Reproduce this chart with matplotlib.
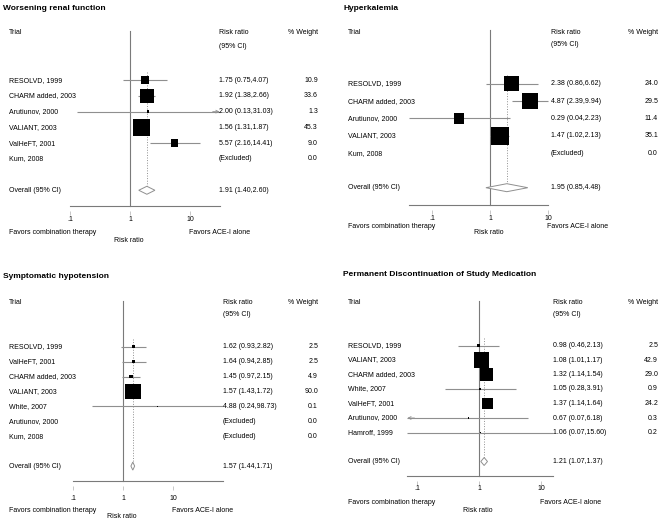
import numpy as np
import matplotlib
matplotlib.use("Agg")
import matplotlib.pyplot as plt
from matplotlib import transforms
from matplotlib.ticker import NullLocator

# ---- data ----
renal_names = ["RESOLVD, 1999", "CHARM added, 2003", "Arutiunov, 2000",
               "VALIANT, 2003", "ValHeFT, 2001", "Kum, 2008"]
renal_rr = [1.75, 1.92, 2.00, 1.56, 5.57, np.nan]
renal_lo = [0.75, 1.38, 0.13, 1.31, 2.16, np.nan]
renal_hi = [4.07, 2.66, 31.03, 1.87, 14.41, np.nan]
renal_wt = [10.9, 33.6, 1.3, 45.3, 9.0, 0.0]
renal_overall = (1.91, 1.40, 2.60)

hyperk_names = ["RESOLVD, 1999", "CHARM added, 2003", "Arutiunov, 2000",
                "VALIANT, 2003", "Kum, 2008"]
hyperk_rr = [2.38, 4.87, 0.29, 1.47, np.nan]
hyperk_lo = [0.86, 2.39, 0.04, 1.02, np.nan]
hyperk_hi = [6.62, 9.94, 2.23, 2.13, np.nan]
hyperk_wt = [24.0, 29.5, 11.4, 35.1, 0.0]
hyperk_overall = (1.95, 0.85, 4.48)

hypot_names = ["RESOLVD, 1999", "ValHeFT, 2001", "CHARM added, 2003",
               "VALIANT, 2003", "White, 2007", "Arutiunov, 2000", "Kum, 2008"]
hypot_rr = [1.62, 1.64, 1.45, 1.57, 4.88, np.nan, np.nan]
hypot_lo = [0.93, 0.94, 0.97, 1.43, 0.24, np.nan, np.nan]
hypot_hi = [2.82, 2.85, 2.15, 1.72, 98.73, np.nan, np.nan]
hypot_wt = [2.5, 2.5, 4.9, 90.0, 0.1, 0.0, 0.0]
hypot_overall = (1.57, 1.44, 1.71)

disc_names = ["RESOLVD, 1999", "VALIANT, 2003", "CHARM added, 2003",
              "White, 2007", "ValHeFT, 2001", "Arutiunov, 2000", "Hamroff, 1999"]
disc_rr = [0.98, 1.08, 1.32, 1.05, 1.37, 0.67, 1.06]
disc_lo = [0.46, 1.01, 1.14, 0.28, 1.14, 0.07, 0.07]
disc_hi = [2.13, 1.17, 1.54, 3.91, 1.64, 6.18, 15.60]
disc_wt = [2.5, 42.9, 29.0, 0.9, 24.2, 0.3, 0.2]
disc_overall = (1.21, 1.07, 1.37)

W, H = 661, 522
plt.rcParams["font.family"] = ["Liberation Sans", "DejaVu Sans"]
fig = plt.figure(figsize=(W / 100, H / 100), dpi=100)

LINE = "#7a7a7a"
CI = "#8f8f8f"
FS = 5


def forest(title, names, rr, lo, hi, wt, overall, g, arrows=None):
    n = len(names)
    rr, lo, hi, wt = map(np.asarray, (rr, lo, hi, wt))
    row = (g["axis"] - g["head"]) / (n + 5)
    top = g["head"] - 0.25 * row
    xlo = min(0.1, np.nanmin(lo))
    xhi = max(10, np.nanmax(hi))
    left = g["ref"] + g["dec"] * np.log10(xlo)
    right = g["ref"] + g["dec"] * np.log10(xhi)
    ax = fig.add_axes([left / W, 1 - g["axis"] / H,
                       (right - left) / W, (g["axis"] - top) / H])
    ax.set_xscale("log")
    ax.set_xlim(xlo, xhi)
    ax.set_ylim(n + 2, -3.25)
    for s in ["top", "left", "right"]:
        ax.spines[s].set_visible(False)
    ax.spines["bottom"].set_position(("outward", 3.6))
    ax.spines["bottom"].set_color("none")
    ax.set_yticks([])
    ax.set_xticks([0.1, 1, 10])
    ax.set_xticklabels([".1", "1", "10"])
    ax.xaxis.set_minor_locator(NullLocator())
    ax.tick_params(axis="x", length=3, width=0.5, color="#b0b0b0",
                   pad=max(0, (g["tl"] - 12.5) * 0.72), labelsize=FS)
    ax.patch.set_alpha(0)

    # axis line, null line, overall line
    ax.axhline(n + 2, color=LINE, lw=0.8, clip_on=False)
    ax.plot([1, 1], [-3.1, n + 2], color=LINE, lw=0.8, clip_on=False)
    ax.plot([overall[0]] * 2, [-0.5, n + 1], color=CI, lw=0.7, ls=":")

    rows = np.arange(n)
    ok = ~np.isnan(rr)
    ax.hlines(rows[ok], lo[ok], hi[ok], color=CI, lw=0.8, clip_on=False)
    side = row * np.sqrt(wt / wt.max()) * 0.72 * 1.04
    ax.scatter(rr[ok], rows[ok], s=side[ok] ** 2, marker="s", color="black",
               linewidths=0, zorder=3, clip_on=False)
    for i, d in (arrows or {}).items():
        end = hi[i] if d == "right" else lo[i]
        start = end / 1.3 if d == "right" else end * 1.3
        ax.annotate("", xy=(end, i), xytext=(start, i),
                    arrowprops=dict(arrowstyle="->", color=CI, lw=0.6,
                                    mutation_scale=5, shrinkA=0, shrinkB=0))

    # overall diamond
    h = 4 / row
    est, olo, ohi = overall
    ax.fill([olo, est, ohi, est], [n + 1, n + 1 - h, n + 1, n + 1 + h],
            facecolor="white", edgecolor=CI, lw=0.7, zorder=3)

    tr = transforms.blended_transform_factory(fig.transFigure, ax.transData)
    kw = dict(transform=tr, va="center", fontsize=FS, clip_on=False)
    ax.text(g["name"] / W, -3, "Trial", **kw)
    ax.text(g["rrx"] / W, -3, "Risk ratio", **kw)
    ax.text(g["rrx"] / W, -3 + 13 / row, "(95% CI)", **kw)
    ax.text(g["wtx"] / W, -3, "% Weight", ha="right", **kw)
    for i in range(n):
        ax.text(g["name"] / W, i, names[i], **kw)
        if ok[i]:
            txt = f"{rr[i]:.2f} ({lo[i]:.2f},{hi[i]:.2f})"
        else:
            txt = "(Excluded)"
        ax.text(g["rrx"] / W, i, txt, **kw)
        ax.text(g["wtx"] / W, i, f"{wt[i]:.1f}", ha="right", **kw)
    ax.text(g["name"] / W, n + 1, "Overall (95% CI)", **kw)
    ax.text(g["rrx"] / W, n + 1, f"{est:.2f} ({olo:.2f},{ohi:.2f})", **kw)

    # bottom labels
    ax.annotate("Favors combination therapy", xy=(g["name"] / W, 0),
                xycoords=(fig.transFigure, "axes fraction"),
                xytext=(0, -g["fav"]), textcoords="offset pixels",
                va="center", fontsize=FS)
    ax.annotate("Favors ACE-I alone", xy=(10, 0),
                xycoords=("data", "axes fraction"),
                xytext=(-1, -g["fav"]), textcoords="offset pixels",
                va="center", fontsize=FS)
    ax.annotate("Risk ratio", xy=(1, 0), xycoords=("data", "axes fraction"),
                xytext=(-1, -g["lab"]), textcoords="offset pixels",
                va="center", ha="center", fontsize=FS)

    fig.text(g["title"][0] / W, 1 - g["title"][1] / H, title,
             fontsize=6, fontweight="bold", va="center")
    return ax


forest("Worsening renal function", renal_names, renal_rr, renal_lo,
       renal_hi, renal_wt, renal_overall,
       dict(ref=130, dec=60, head=33, axis=206, name=9, rrx=219, wtx=318,
            tl=13, fav=27, lab=34, title=(3, 8)),
       arrows={2: "right"})

forest("Hyperkalemia", hyperk_names, hyperk_rr, hyperk_lo, hyperk_hi,
       hyperk_wt, hyperk_overall,
       dict(ref=490, dec=58, head=32, axis=205, name=348, rrx=551, wtx=658,
            tl=13, fav=21, lab=27, title=(343, 8)))

forest("Symptomatic hypotension", hypot_names, hypot_rr, hypot_lo,
       hypot_hi, hypot_wt, hypot_overall,
       dict(ref=123, dec=50, head=302, axis=481, name=9, rrx=223, wtx=318,
            tl=17, fav=29, lab=35, title=(3, 276)))

forest("Permanent Discontinuation of Study Medication", disc_names, disc_rr,
       disc_lo, disc_hi, disc_wt, disc_overall,
       dict(ref=479, dec=62, head=302, axis=476, name=348, rrx=553, wtx=658,
            tl=12, fav=27, lab=34, title=(343, 274)),
       arrows={5: "left"})

fig.savefig("out.png", dpi=100, facecolor="white")
